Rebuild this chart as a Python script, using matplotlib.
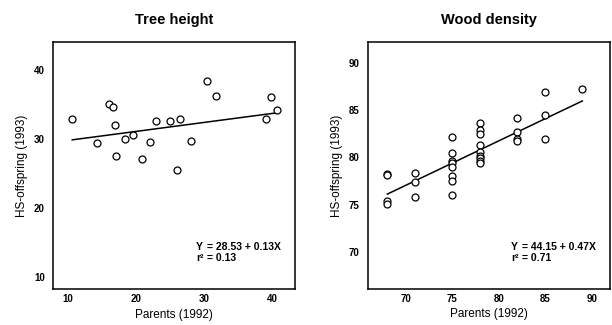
import numpy as np
import matplotlib
matplotlib.use("Agg")
import matplotlib.pyplot as plt

plt.rcParams["font.family"] = ["Liberation Sans", "DejaVu Sans"]

# ── Data ───────────────────────────────────────────────────────────────────────
height_parents = [10.6, 14.2, 16.0, 16.6, 16.9, 17.0, 18.4, 19.6, 20.8, 22.1,
                  23.0, 25.0, 26.5, 26.0, 28.1, 30.5, 31.8, 39.1, 39.9, 40.7]
height_offspring = [32.9, 29.5, 35.1, 34.7, 32.1, 27.6, 30.0, 30.6, 27.2, 29.6,
                    32.6, 32.6, 33.0, 25.6, 29.7, 38.4, 36.2, 32.9, 36.1, 34.3]
height_fit = (28.53, 0.13, 0.13)   # intercept, slope, r²

density_parents = [68, 68, 68, 68,
                   71, 71, 71,
                   75, 75, 75, 75, 75, 75, 75, 75,
                   78, 78, 78, 78, 78, 78, 78, 78, 78,
                   82, 82, 82, 82,
                   85, 85, 85,
                   89]
density_offspring = [78.2, 78.1, 75.4, 75.1,
                     78.3, 77.4, 75.8,
                     82.2, 80.5, 79.6, 79.4, 79.0, 78.0, 77.5, 76.0,
                     83.6, 82.9, 82.5, 81.3, 80.6, 80.1, 79.9, 79.6, 79.4,
                     84.2, 82.7, 81.9, 81.7,
                     86.9, 84.5, 81.9,
                     87.2]
density_fit = (44.15, 0.47, 0.71)

fig = plt.figure(figsize=(6.12, 3.25), dpi=100)


def panel(rect, x, y, fit, title, xlim, ylim, xticks, yticks):
    ax = fig.add_axes(rect)
    a, b, r2 = fit
    ax.plot(x, y, "o", mfc="white", mec="black", ms=5, mew=0.9, zorder=3)
    xs = np.array([min(x), max(x)])
    ax.plot(xs, a + b * xs, color="black", lw=1.1, zorder=2)
    ax.set_xlim(*xlim)
    ax.set_ylim(*ylim)
    ax.set_xticks(xticks)
    ax.set_yticks(yticks)
    ax.tick_params(axis="x", length=0, pad=4, labelsize=7)
    ax.tick_params(axis="y", length=0, pad=6, labelsize=7)
    for lab in ax.get_xticklabels() + ax.get_yticklabels():
        lab.set_fontweight("bold")
    for sp in ax.spines.values():
        sp.set_linewidth(1.1)
    ax.set_xlabel("Parents (1992)", fontsize=8.5, labelpad=3)
    ax.set_ylabel("HS-offspring (1993)", fontsize=8.5, labelpad=4)
    ax.set_title(title, fontsize=10.5, fontweight="bold", pad=13)
    # regression annotation
    kw = dict(transform=ax.transAxes, fontsize=7.5, fontweight="bold",
              va="center")
    ax.text(0.59, 0.17, "Y", **kw)
    ax.text(0.635, 0.17, f"= {a:.2f} + {b:.2f}X", **kw)
    ax.text(0.59, 0.125, "r\u00b2", **kw)
    ax.text(0.635, 0.125, f"= {r2:.2f}", **kw)
    return ax


panel([0.087, 0.111, 0.395, 0.76], height_parents, height_offspring,
      height_fit, "Tree height", (7.8, 43.4), (8.3, 44.1),
      [10, 20, 30, 40], [10, 20, 30, 40])
panel([0.601, 0.112, 0.396, 0.758], density_parents, density_offspring,
      density_fit, "Wood density", (65.9, 92.0), (66.1, 92.2),
      [70, 75, 80, 85, 90], [70, 75, 80, 85, 90])

plt.savefig("out.png", dpi=100)
